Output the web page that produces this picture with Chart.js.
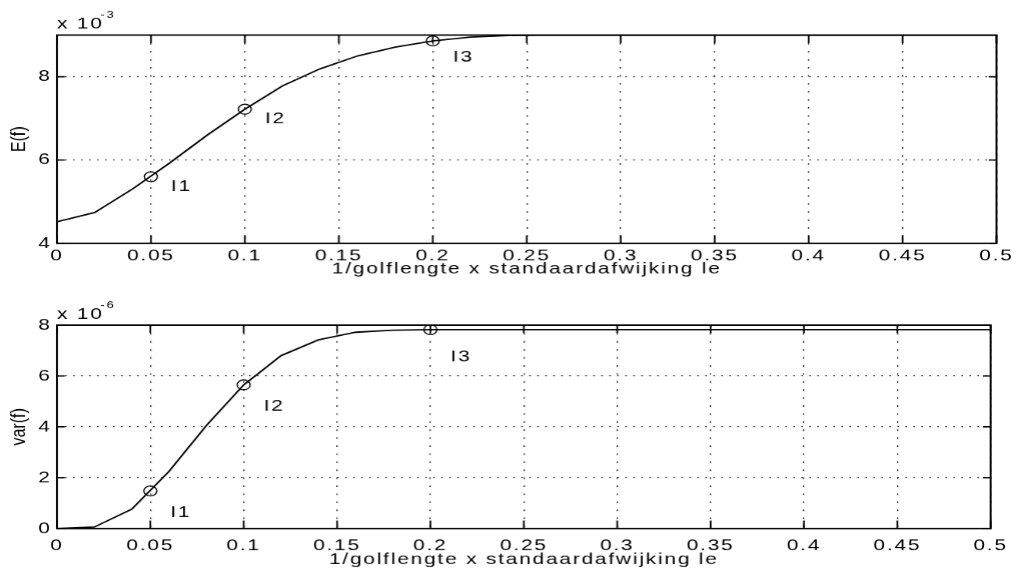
<!DOCTYPE html>
<html>
<head>
<meta charset="utf-8">
<script src="https://cdn.jsdelivr.net/npm/chart.js@4.4.1/dist/chart.umd.min.js"></script>
<style>
  html, body { margin: 0; padding: 0; background: #fff; overflow: hidden; }
  /* the plots are laid out narrow and widened afterwards, like the old printout */
  .panel { position: absolute; left: 0; width: 782px; transform: scaleX(1.30051); transform-origin: 0 0; }
  #panel-top { top: 0; height: 285px; }
  #panel-bottom { top: 285px; height: 286px; }
</style>
</head>
<body>
<div class="panel" id="panel-top"><canvas id="chart-mean"></canvas></div>
<div class="panel" id="panel-bottom"><canvas id="chart-var"></canvas></div>
<script>
'use strict';

// 1/golflengte x standaardafwijking le
let xValues = [0, 0.02, 0.04, 0.06, 0.08, 0.1, 0.12, 0.14, 0.16, 0.18, 0.2, 0.22, 0.24,
  0.26, 0.28, 0.3, 0.32, 0.34, 0.36, 0.38, 0.4, 0.42, 0.44, 0.46, 0.48, 0.5];

// E(f), in units of 1e-3
let meanValues = [4.52, 4.74, 5.3, 5.93, 6.6, 7.22, 7.78, 8.19, 8.5, 8.71, 8.86, 8.95, 8.99,
  9, 9, 9, 9, 9, 9, 9, 9, 9, 9, 9, 9, 9];

// var(f), in units of 1e-6
let varValues = [0, 0.06, 0.76, 2.25, 4.05, 5.65, 6.8, 7.42, 7.72, 7.8, 7.82, 7.82, 7.82,
  7.82, 7.82, 7.82, 7.82, 7.82, 7.82, 7.82, 7.82, 7.82, 7.82, 7.82, 7.82, 7.82];

// the three marked cases
let markerX = [0.05, 0.1, 0.2];
let markerNames = ['I1', 'I2', 'I3'];
let meanMarkers = [5.6, 7.22, 8.86];
let varMarkers = [1.48, 5.65, 7.82];

let xTicks = [0, 0.05, 0.1, 0.15, 0.2, 0.25, 0.3, 0.35, 0.4, 0.45, 0.5];
let meanTicks = [4, 6, 8];
let varTicks = [0, 2, 4, 6, 8];

let fontName = '"Liberation Sans", Arial, Helvetica, sans-serif';
let spacing = '1.4px';

function toPoints(xs, ys) {
    return xs.map(function (x, i) { return { x: x, y: ys[i] }; });
}

// box, inward ticks, exponent, point names and y title
let axesBox = {
    id: 'axesBox',
    beforeUpdate(chart) { chart.ctx.letterSpacing = spacing; },
    beforeDraw(chart) { chart.ctx.letterSpacing = spacing; },
    afterDraw(chart, args, opts) {
        let ctx = chart.ctx;
        let a = chart.chartArea;
        let xs = chart.scales.x;
        let ys = chart.scales.y;
        ctx.save();
        ctx.strokeStyle = '#000';
        ctx.lineWidth = 1.5;
        ctx.strokeRect(a.left, a.top, a.right - a.left, a.bottom - a.top);

        ctx.lineWidth = 1.3;
        ctx.beginPath();
        xs.ticks.forEach(function (t) {
            let px = xs.getPixelForValue(t.value);
            ctx.moveTo(px, a.bottom); ctx.lineTo(px, a.bottom - 8);
            ctx.moveTo(px, a.top); ctx.lineTo(px, a.top + 8);
        });
        ys.ticks.forEach(function (t) {
            let py = ys.getPixelForValue(t.value);
            ctx.moveTo(a.left, py); ctx.lineTo(a.left + 6, py);
            ctx.moveTo(a.right, py); ctx.lineTo(a.right - 6, py);
        });
        ctx.stroke();

        ctx.fillStyle = '#000';
        ctx.textAlign = 'left';
        ctx.textBaseline = 'alphabetic';
        ctx.font = '16px ' + fontName;
        ctx.fillText('x 10', a.left, a.top - 6.5);
        let w = ctx.measureText('x 10').width;
        ctx.font = '10px ' + fontName;
        ctx.fillText(opts.exponent, a.left + w - 2.5, a.top - 17);

        ctx.font = '16px ' + fontName;
        ctx.textBaseline = 'middle';
        chart.data.datasets[1].data.forEach(function (p, i) {
            ctx.fillText(markerNames[i], xs.getPixelForValue(p.x) + 15.4,
                ys.getPixelForValue(p.y) + opts.labelDy[i]);
        });

        ctx.letterSpacing = '0px';
        ctx.translate(14.6, (a.top + a.bottom) / 2);
        ctx.rotate(-Math.PI / 2);
        ctx.textAlign = 'center';
        ctx.fillText(opts.yTitle, 0, 0);
        ctx.restore();
    }
};

function buildChart(canvasId, values, marks, yTicks, yMin, yMax, cfg) {
    let tickFont = { family: fontName, size: 16 };
    return new Chart(document.getElementById(canvasId), {
        type: 'scatter',
        data: {
            datasets: [
                {
                    data: toPoints(xValues, values),
                    showLine: true,
                    borderColor: '#000',
                    borderWidth: 1.4,
                    pointRadius: 0,
                    tension: 0
                },
                {
                    data: toPoints(markerX, marks),
                    showLine: false,
                    pointStyle: 'circle',
                    pointRadius: 5,
                    borderWidth: 1,
                    borderColor: '#000',
                    backgroundColor: 'rgba(0,0,0,0)'
                }
            ]
        },
        options: {
            responsive: true,
            maintainAspectRatio: false,
            animation: false,
            devicePixelRatio: 1.3,
            events: [],
            layout: { padding: { left: 0, right: 15.4, top: cfg.top, bottom: 0 } },
            plugins: {
                legend: { display: false },
                tooltip: { enabled: false },
                axesBox: { exponent: cfg.exponent, yTitle: cfg.yTitle, labelDy: cfg.labelDy }
            },
            scales: {
                x: {
                    type: 'linear',
                    min: 0,
                    max: 0.5,
                    afterBuildTicks: function (s) { s.ticks = xTicks.map(function (v) { return { value: v }; }); },
                    afterFit: function (s) { s.height = cfg.xHeight; },
                    grid: { color: '#222', lineWidth: 1, drawTicks: false },
                    border: { display: false, dash: [1.5, 6.5] },
                    ticks: {
                        autoSkip: false,
                        maxRotation: 0,
                        padding: cfg.xPad,
                        color: '#000',
                        font: tickFont,
                        callback: function (v) { return String(Number(v.toFixed(2))); }
                    },
                    title: {
                        display: true,
                        text: '1/golflengte x standaardafwijking le',
                        color: '#000',
                        font: tickFont,
                        padding: { top: 0, bottom: cfg.titlePad }
                    }
                },
                y: {
                    type: 'linear',
                    min: yMin,
                    max: yMax,
                    afterBuildTicks: function (s) { s.ticks = yTicks.map(function (v) { return { value: v }; }); },
                    afterFit: function (s) { s.width = 43.8; },
                    grid: { color: '#222', lineWidth: 1, drawTicks: false },
                    border: { display: false, dash: [1.15, 5] },
                    ticks: { padding: 4, color: '#000', font: tickFont }
                }
            }
        },
        plugins: [axesBox]
    });
}

buildChart('chart-mean', meanValues, meanMarkers, meanTicks, 4, 9, {
    top: 35, xHeight: 42, xPad: 3, titlePad: 6.5,
    exponent: '-3', yTitle: 'E(f)', labelDy: [10, 9.5, 16.5]
});

buildChart('chart-var', varValues, varMarkers, varTicks, 0, 8, {
    top: 40, xHeight: 43, xPad: 7.5, titlePad: 2.5,
    exponent: '-6', yTitle: 'var(f)', labelDy: [22, 21.5, 27]
});
</script>
</body>
</html>
